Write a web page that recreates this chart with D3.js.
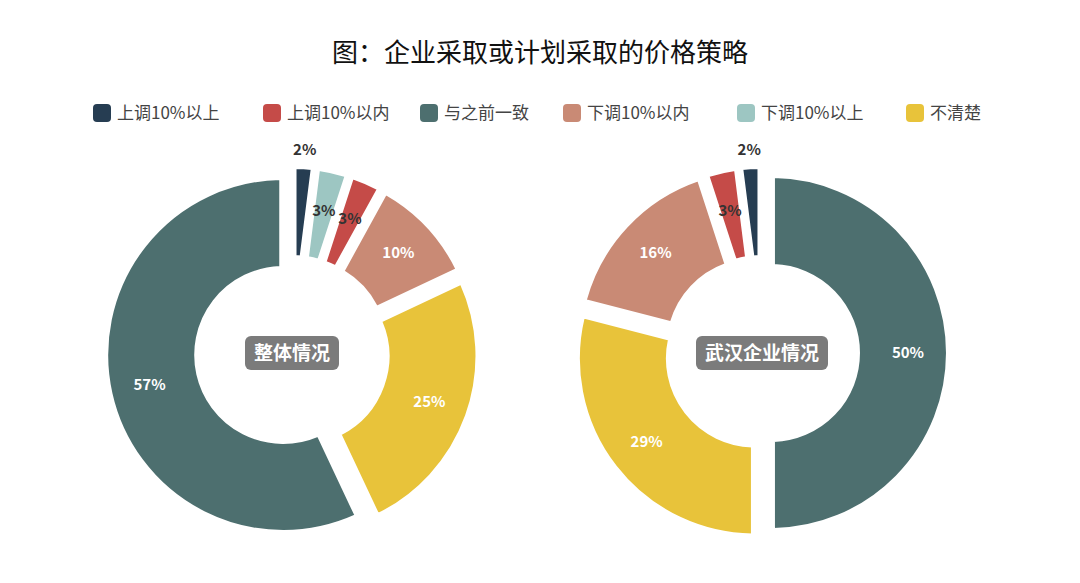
<!DOCTYPE html>
<html><head><meta charset="utf-8">
<script src="https://cdn.jsdelivr.net/npm/d3@7"></script>
<style>body{margin:0;background:#fff}</style>
</head><body><svg id="c" width="1080" height="583"></svg>
<script>
const categories = ["上调10%以上", "上调10%以内", "与之前一致", "下调10%以内", "下调10%以上", "不清楚"]
const colors = ["#263d52", "#c54b48", "#4d6f6f", "#c98a75", "#9dc6c2", "#e8c33a"]
// clockwise order from 12 o'clock, as drawn
const overallOrder = [0, 4, 1, 3, 5, 2]
const overallValues = [2, 3, 3, 10, 25, 57]
const wuhanOrder = [2, 5, 3, 1, 0]
const wuhanValues = [50, 29, 16, 3, 2]

const svg = d3.select("#c")
const font = "'Noto Sans CJK SC', 'Noto Sans', sans-serif"

svg.append("text").attr("x", 540).attr("y", 62).attr("text-anchor", "middle")
  .attr("font-family", font).attr("font-size", 26).attr("fill", "#111")
  .text("图：企业采取或计划采取的价格策略")

// legend
const legendX = [93, 263, 420, 563, 737, 906]
const lg = svg.append("g")
categories.forEach((c, i) => {
  lg.append("rect").attr("x", legendX[i]).attr("y", 104).attr("width", 18).attr("height", 18)
    .attr("rx", 4).attr("fill", colors[i])
  lg.append("text").attr("x", legendX[i] + 24).attr("y", 119).attr("font-family", font)
    .attr("font-size", 17).attr("fill", "#444").text(c)
})

const drawDonut = (cx, cy, order, values, title) => {
  const g = svg.append("g").attr("transform", `translate(${cx},${cy})`)
  const pie = d3.pie().sort(null).value(d => d)
  const arcs = pie(values)
  const arc = d3.arc().innerRadius(88).outerRadius(176)
  const off = 9
  arcs.forEach((a, i) => {
    const mid = (a.startAngle + a.endAngle) / 2
    const dx = Math.sin(mid) * off, dy = -Math.cos(mid) * off
    const sg = g.append("g").attr("transform", `translate(${dx},${dy})`)
    sg.append("path").attr("d", arc({ ...a, padAngle: 0.03 })).attr("fill", colors[order[i]])
      .attr("stroke", "#fff").attr("stroke-width", 2)
    const small = a.data <= 2
    const r = small ? 194 : 137
    const dark = a.data <= 3
    sg.append("text").attr("x", Math.sin(mid) * r).attr("y", -Math.cos(mid) * r + 5)
      .attr("text-anchor", "middle").attr("font-family", font).attr("font-weight", "bold")
      .attr("font-size", 15).attr("fill", dark ? "#333" : "#fff").text(a.data + "%")
  })
  const tw = title.length * 19 + 18
  g.append("rect").attr("x", -tw / 2).attr("y", -17).attr("width", tw).attr("height", 34)
    .attr("rx", 6).attr("fill", "#7b7b7b")
  g.append("text").attr("y", 7).attr("text-anchor", "middle").attr("font-family", font)
    .attr("font-weight", "bold").attr("font-size", 19).attr("fill", "#fff").text(title)
}

drawDonut(292, 353, overallOrder, overallValues, "整体情况")
drawDonut(762, 353, wuhanOrder, wuhanValues, "武汉企业情况")
</script></body></html>
